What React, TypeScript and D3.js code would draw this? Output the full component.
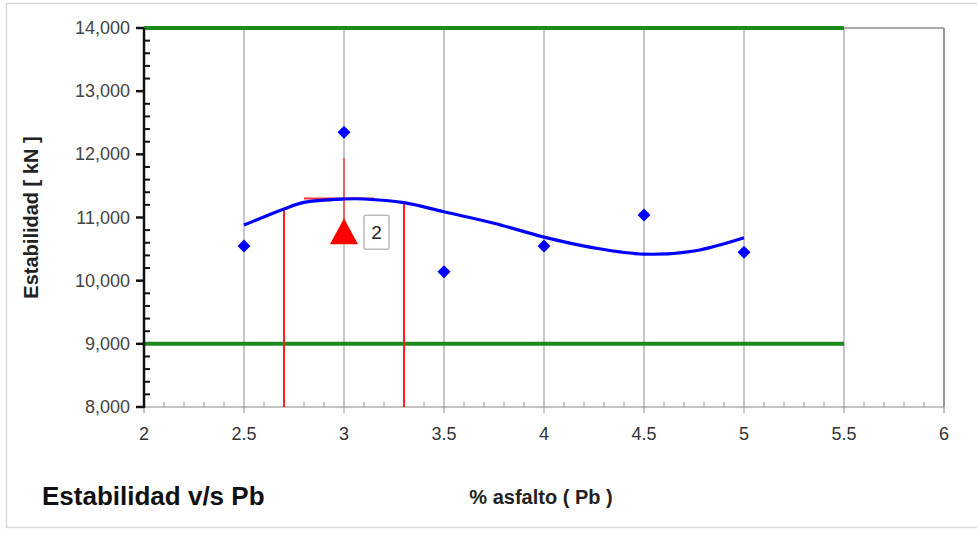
import React from "react";
import * as d3 from "d3";

// measured points
const pbValues = [2.5, 3.0, 3.5, 4.0, 4.5, 5.0];
const stability = [10550, 12350, 10140, 10550, 11040, 10450];

// fitted curve
const curvePb = [2.5, 2.7, 2.8, 3.0, 3.1, 3.3, 3.5, 3.75, 4.0, 4.25, 4.5, 4.75, 5.0];
const curveStab = [10880, 11135, 11240, 11293, 11293, 11235, 11090, 10910, 10690, 10520, 10420, 10470, 10680];

// spec limits (green lines)
const limitValues = [9000, 14000];
const limitRange = [2, 5.5];

// optimum marker
const optimumPb = 3.0;
const optimumStab = 10750;
const optimumTop = 11940;
const optimumLabel = "2";
const rangePb = [2.7, 3.3];
const rangeTopStab = [11135, 11235];
const flatRange = [2.8, 3.15];
const flatStab = 11300;

const xTicks = [2, 2.5, 3, 3.5, 4, 4.5, 5, 5.5, 6];
const yTicks = [8000, 9000, 10000, 11000, 12000, 13000, 14000];

const W = 977;
const H = 533;
const left = 144, right = 944, top = 28, bottom = 407;

export default function App() {
  const x = d3.scaleLinear().domain([2, 6]).range([left, right]);
  const y = d3.scaleLinear().domain([8000, 14000]).range([bottom, top]);
  const fmt = d3.format(",");

  const minorX = d3.range(20, 61).map((d) => d / 10).filter((d) => Math.abs(d * 2 - Math.round(d * 2)) > 1e-6);
  const minorY = d3.range(8000, 14001, 200).filter((d) => d % 1000 !== 0);

  const line = d3
    .line<number>()
    .x((_, i) => x(curvePb[i]))
    .y((d) => y(d))
    .curve(d3.curveCatmullRom);

  const font = "'Liberation Sans', Arial, sans-serif";
  const diamond = (cx: number, cy: number, r: number) =>
    `M${cx},${cy - r}L${cx + r},${cy}L${cx},${cy + r}L${cx - r},${cy}Z`;

  return (
    <svg
      width={W}
      height={H}
      style={{ position: "absolute", left: 0, top: 0, background: "#fff" }}
      fontFamily={font}
    >
      <rect x={6.5} y={3.5} width={W} height={524} fill="none" stroke="#d9d9d9" strokeWidth={1.5} />

      {/* plot frame */}
      <line x1={left} x2={right} y1={top} y2={top} stroke="#aaa" strokeWidth={2} />
      <line x1={right} x2={right} y1={top} y2={bottom} stroke="#999" strokeWidth={2} />

      {/* vertical grid */}
      {xTicks.slice(1, -1).map((t) => (
        <line key={t} x1={x(t)} x2={x(t)} y1={top} y2={bottom + 6} stroke="#b5b5b5" strokeWidth={1.5} />
      ))}

      {/* x axis */}
      <line x1={left} x2={right} y1={bottom} y2={bottom} stroke="#888" strokeWidth={1} />
      {minorX.map((t) => (
        <line key={t} x1={x(t)} x2={x(t)} y1={bottom} y2={bottom - 5} stroke="#999" strokeWidth={1} />
      ))}
      <line x1={x(2)} x2={x(2)} y1={bottom} y2={bottom + 6} stroke="#888" strokeWidth={1} />
      <line x1={x(6)} x2={x(6)} y1={bottom} y2={bottom + 6} stroke="#888" strokeWidth={1} />
      {xTicks.map((t) => (
        <text key={t} x={x(t)} y={bottom + 33} textAnchor="middle" fontSize={18} fill="#333">
          {t}
        </text>
      ))}

      {/* limit lines */}
      {limitValues.map((v) => (
        <line key={v} x1={x(limitRange[0])} x2={x(limitRange[1])} y1={y(v)} y2={y(v)} stroke="#1d8a1d" strokeWidth={4} />
      ))}

      {/* optimum range markers */}
      {rangePb.map((p, i) => (
        <line key={p} x1={x(p)} x2={x(p)} y1={y(rangeTopStab[i])} y2={bottom} stroke="#ff2020" strokeWidth={2} />
      ))}
      <line x1={x(flatRange[0])} x2={x(flatRange[1])} y1={y(flatStab)} y2={y(flatStab)} stroke="#ff3030" strokeWidth={2} />
      <line x1={x(optimumPb)} x2={x(optimumPb)} y1={y(optimumTop)} y2={y(optimumStab)} stroke="#ff2020" strokeWidth={1.2} />

      {/* fitted curve */}
      <path d={line(curveStab) || ""} fill="none" stroke="#0000ff" strokeWidth={3.2} />

      {/* data points */}
      {pbValues.map((p, i) => (
        <path key={p} d={diamond(x(p), y(stability[i]), 6.5)} fill="#0000ff" />
      ))}

      {/* optimum triangle + label */}
      <path
        d={`M${x(optimumPb)},${y(optimumStab) - 15}L${x(optimumPb) + 14},${y(optimumStab) + 11}L${x(optimumPb) - 14},${y(optimumStab) + 11}Z`}
        fill="#ff0000"
      />
      <rect x={x(optimumPb) + 20} y={y(optimumStab) - 18} width={25} height={34} rx={2} fill="#fff" stroke="#bbb" strokeWidth={1.5} />
      <text x={x(optimumPb) + 32.5} y={y(optimumStab) + 6} textAnchor="middle" fontSize={19} fill="#222">
        {optimumLabel}
      </text>

      {/* y axis */}
      <line x1={left} x2={left} y1={top} y2={bottom + 1} stroke="#111" strokeWidth={2.5} />
      {yTicks.map((t) => (
        <g key={t}>
          <line x1={left - 8} x2={left} y1={y(t)} y2={y(t)} stroke="#111" strokeWidth={2.5} />
          <text x={left - 14} y={y(t) + 6} textAnchor="end" fontSize={18} fill="#444">
            {fmt(t)}
          </text>
        </g>
      ))}
      {minorY.map((t) => (
        <line key={t} x1={left} x2={left + 6} y1={y(t)} y2={y(t)} stroke="#111" strokeWidth={2} />
      ))}

      {/* titles */}
      <text
        transform={`translate(38,${(top + bottom) / 2}) rotate(-90)`}
        textAnchor="middle"
        fontSize={20}
        fontWeight={600}
        fill="#222"
      >
        Estabilidad [ kN ]
      </text>
      <text x={541} y={504} textAnchor="middle" fontSize={20} fontWeight={600} fill="#222">
        % asfalto ( Pb )
      </text>
      <text x={42} y={505} fontSize={26} fontWeight="bold" fill="#111">
        Estabilidad v/s Pb
      </text>
    </svg>
  );
}
